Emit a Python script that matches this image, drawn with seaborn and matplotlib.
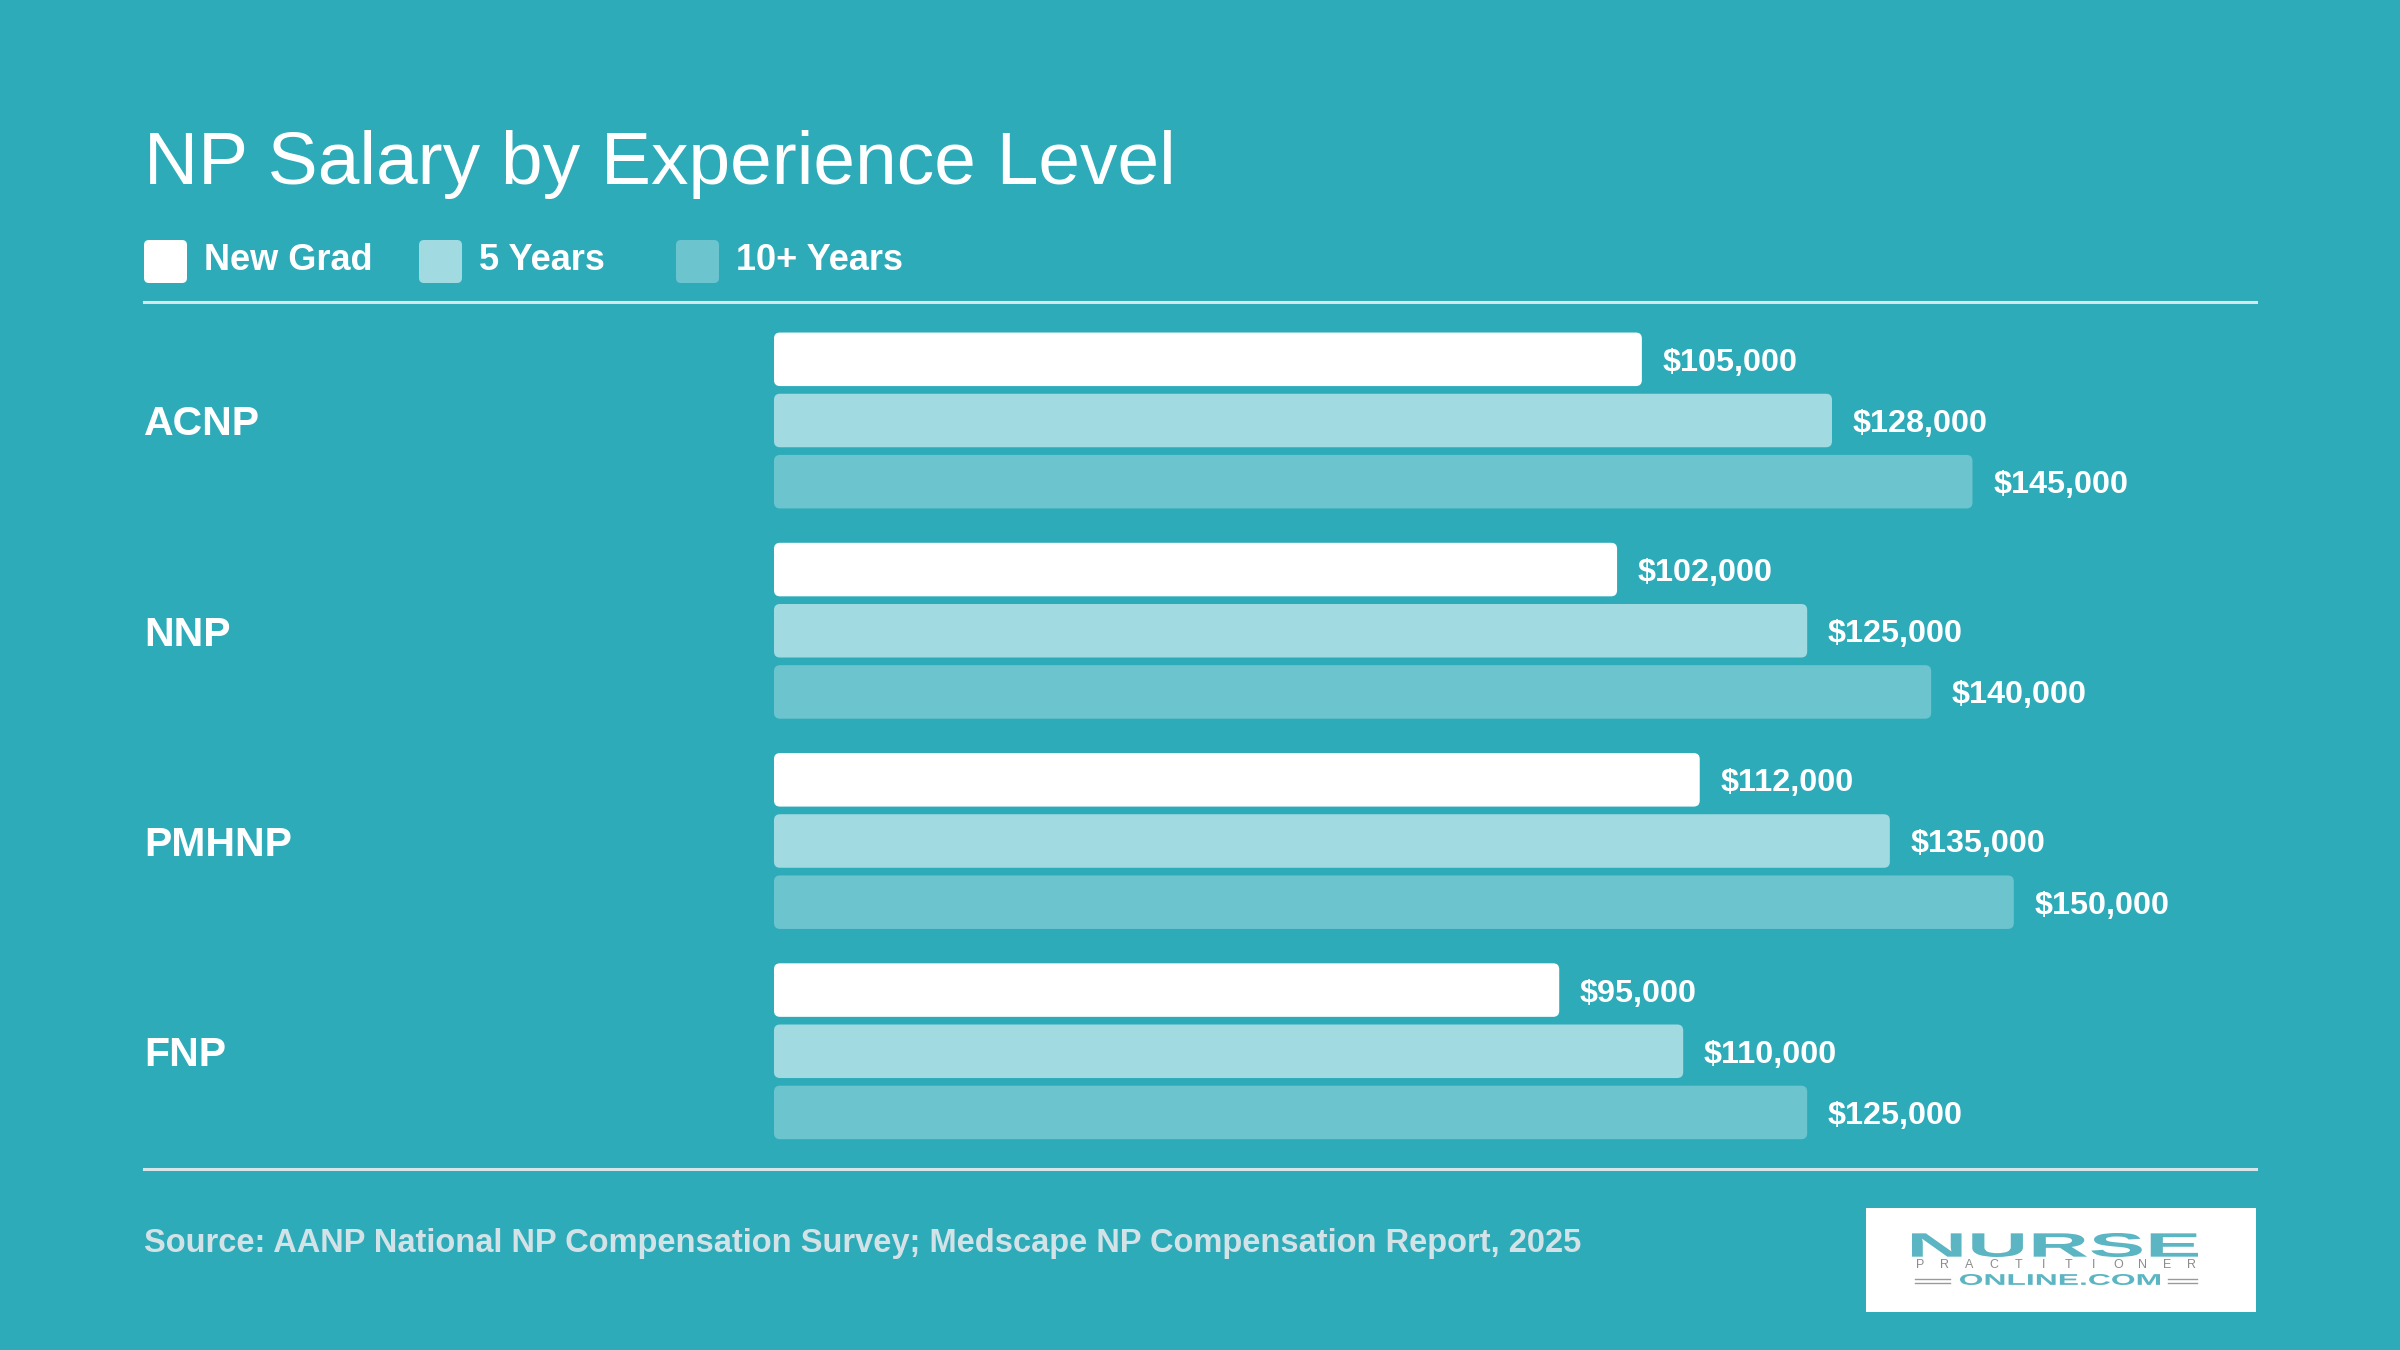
import numpy as np
import pandas as pd
import matplotlib
matplotlib.use('Agg')
import matplotlib.pyplot as plt
import seaborn as sns
from matplotlib.patches import FancyBboxPatch, Rectangle, PathPatch
from matplotlib.textpath import TextPath
from matplotlib.font_manager import FontProperties
from matplotlib.transforms import Affine2D
from matplotlib.lines import Line2D

# Salary data by specialty and experience level
specialties = ['ACNP', 'NNP', 'PMHNP', 'FNP']
levels = ['New Grad', '5 Years', '10+ Years']
new_grad = [105000, 102000, 112000, 95000]
five_years = [128000, 125000, 135000, 110000]
ten_years = [145000, 140000, 150000, 125000]

bg = '#2DABB9'
palette = ['#FFFFFF', '#A2DAE2', '#6CC4CF']
rule_color = '#D6E6EA'
logo_teal = '#5BB5C3'

df = pd.concat([
    pd.DataFrame({'Specialty': specialties, 'Experience': lvl, 'Salary': vals})
    for lvl, vals in zip(levels, [new_grad, five_years, ten_years])
], ignore_index=True)

plt.rcParams['font.family'] = ['Liberation Sans', 'DejaVu Sans']

W, H = 2400, 1350
fig = plt.figure(figsize=(24, 13.5), dpi=100, facecolor=bg)
ax_rect = [774 / W, 1 - 1169 / H, (2256 - 774) / W, (1169 - 302) / H]
ax = fig.add_axes(ax_rect)
ax.set_facecolor(bg)

sns.barplot(data=df, x='Salary', y='Specialty', hue='Experience', orient='h',
            palette=palette, saturation=1, width=0.873, gap=0.125,
            errorbar=None, linewidth=0, legend=False, ax=ax)

# value labels
for cont in ax.containers:
    anns = ax.bar_label(cont, labels=[f'${v:,.0f}' for v in cont.datavalues],
                        padding=15, color='white', fontsize=23.3, fontweight='bold')
    for a in anns:
        a.xyann = (15, -2.5)

xmax = 179300
ylim = (3.56, -0.5636)
ax.set_xlim(0, xmax)
ax.set_ylim(*ylim)

# rounded bar corners
r_px = 6
rx = r_px * xmax / (ax_rect[2] * W)
ry = r_px * (ylim[0] - ylim[1]) / (ax_rect[3] * H)
for p in list(ax.patches):
    x, y = p.get_xy()
    rb = FancyBboxPatch((x, y), p.get_width(), p.get_height(),
                        boxstyle=f'round,pad=0,rounding_size={rx}',
                        mutation_aspect=ry / rx, fc=p.get_facecolor(), ec='none')
    ax.add_patch(rb)
    p.set_visible(False)

ax.set_xticks([])
ax.set_xlabel('')
ax.set_ylabel('')
for s in ax.spines.values():
    s.set_visible(False)
ax.tick_params(axis='y', length=0, pad=(774 - 144) * 0.72, labelsize=29.5, labelcolor='white')
for t in ax.get_yticklabels():
    t.set_ha('left')
    t.set_fontweight('bold')

# rules
for yy in [1 - 302 / H, 1 - 1169 / H]:
    fig.add_artist(Line2D([144 / W, 2256 / W], [yy, yy], color=rule_color, lw=2.2))

fig.text(144 / W, 1 - 184 / H, 'NP Salary by Experience Level', color='white',
         fontsize=54, va='baseline')

# legend: rounded swatches + bold labels
legend_x = [144, 419, 676]
for lbl, col, lx in zip(levels, palette, legend_x):
    fig.add_artist(FancyBboxPatch((lx / W, 1 - 283 / H), 43 / W, 43 / H,
                                  boxstyle=f'round,pad=0,rounding_size={5 / W}',
                                  mutation_aspect=W / H, transform=fig.transFigure,
                                  fc=col, ec='none'))
    fig.text((lx + 60) / W, 1 - 261 / H, lbl, color='white', fontsize=26,
             fontweight='bold', va='center')

fig.text(144 / W, 1 - 1252 / H,
         'Source: AANP National NP Compensation Survey; Medscape NP Compensation Report, 2025',
         color='#D3E2E6', fontsize=23.5, fontweight='bold', va='baseline')

# logo box
fig.add_artist(Rectangle((1866 / W, 1 - 1312 / H), (2256 - 1866) / W, (1312 - 1208) / H,
                         transform=fig.transFigure, fc='white', ec='none'))


def fit_text(s, x0, y0, x1, y1, color):
    tp = TextPath((0, 0), s, size=10, prop=FontProperties(family='Liberation Sans', weight='bold'))
    bb = tp.get_extents()
    tr = (Affine2D().translate(-bb.x0, -bb.y0)
          .scale((x1 - x0) / bb.width / W, (y1 - y0) / bb.height / H)
          .translate(x0 / W, y0 / H))
    fig.add_artist(PathPatch(tr.transform_path(tp), fc=color, ec='none',
                             transform=fig.transFigure))


fit_text('NURSE', 1912, 93, 2198, 117, logo_teal)
fit_text('ONLINE.COM', 1960, 65, 2160, 76, logo_teal)
for ch, cx in zip('PRACTITIONER', np.linspace(1920, 2192, 12)):
    fig.text(cx / W, 84.5 / H, ch, color='#8C8C8C', fontsize=9, ha='center', va='center')
for yy in [67, 71]:
    for xa, xb in [(1915, 1950), (2168, 2197)]:
        fig.add_artist(Line2D([xa / W, xb / W], [yy / H, yy / H], color='#9A9A9A', lw=1.0))

fig.savefig('out.png', dpi=100, facecolor=bg)
